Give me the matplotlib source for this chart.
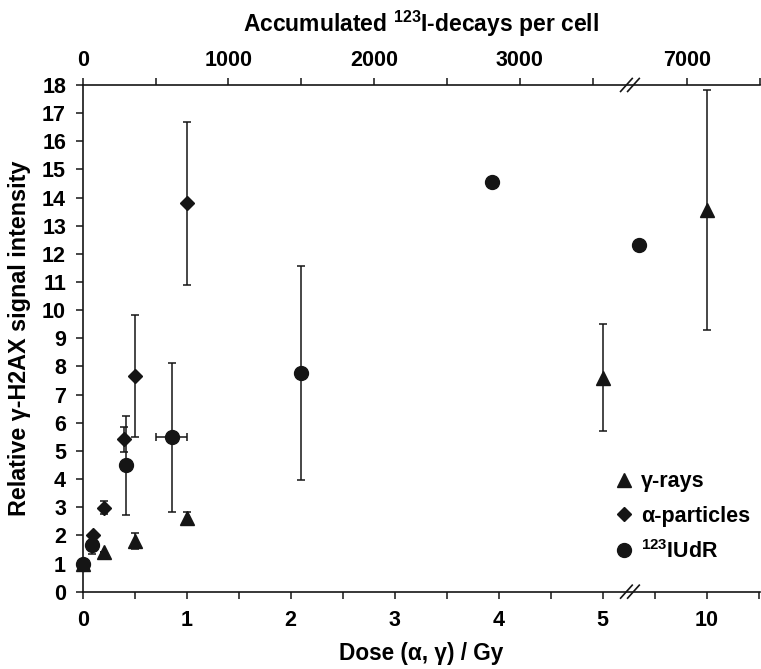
import matplotlib
matplotlib.use('Agg')
import matplotlib.pyplot as plt
from matplotlib.lines import Line2D
import numpy as np

plt.rcParams['font.family'] = ['Liberation Sans', 'DejaVu Sans']
plt.rcParams['font.weight'] = 'bold'
plt.rcParams['mathtext.fontset'] = 'custom'
for k in ('rm', 'it', 'bf', 'sf'):
    plt.rcParams['mathtext.' + k] = 'Liberation Sans:bold'

# ---------------- data ----------------
gamma_dose = [0, 0.2, 0.5, 1, 5, 10]
gamma_val = [1.0, 1.42, 1.8, 2.6, 7.6, 13.55]
gamma_err = [0, 0, 0.3, 0.24, 1.9, 4.27]

alpha_dose = [0, 0.1, 0.2, 0.4, 0.5, 1.0]
alpha_val = [1.0, 2.0, 2.98, 5.41, 7.65, 13.8]
alpha_err = [0, 0, 0.23, 0.44, 2.17, 2.9]

iudr_decays = [0, 62, 300, 610, 1500, 2810, 6670]
iudr_val = [1.0, 1.66, 4.49, 5.48, 7.76, 14.54, 12.33]
iudr_err = [0, 0.32, 1.75, 2.66, 3.8, 0, 0]
iudr_xerr = [0, 0, 0, 105, 0, 0, 0]

dose_ticks = [0, 1, 2, 3, 4, 5, 10]
dose_minor = [0.5, 1.5, 2.5, 3.5, 4.5, 7.5, 12.5]
decay_ticks = [0, 1000, 2000, 3000, 7000]
decay_minor = [500, 1500, 2500, 3500]
y_ticks = list(range(0, 19))

legend_labels = ['\u03b3-rays', '\u03b1-particles', r'$^{123}$IUdR']

# ---------------- broken-axis scales ----------------
# bottom: linear up to 5 Gy, compressed 5x beyond the break
def dose_fwd(d):
    d = np.asarray(d, float)
    return np.where(d <= 5, d, 5 + (d - 5) / 5.0)

def dose_inv(p):
    p = np.asarray(p, float)
    return np.where(p <= 5, p, 5 + (p - 5) * 5.0)

K = 1.4013e-3      # position units per decay
P7000 = 5.815      # position of the 7000 tick after the break
PBRK = 5.19        # break position

def dec_fwd(n):
    n = np.asarray(n, float)
    lo = n * K
    hi = P7000 + (n - 7000) * K
    return np.where(n <= PBRK / K, lo, np.where(n >= 7000 + (PBRK - P7000) / K, hi, PBRK))

def dec_inv(p):
    p = np.asarray(p, float)
    return np.where(p <= PBRK, p / K, 7000 + (p - P7000) / K)

POS_MAX = 6.51

fig = plt.figure(figsize=(7.61, 6.69), dpi=100)
ax = fig.add_axes([0.1087, 0.1156, 0.8895, 0.7574])
ax.set_xscale('function', functions=(dose_fwd, dose_inv))
ax.set_xlim(0, float(dose_inv(POS_MAX)))
ax.set_ylim(0, 18)

ax2 = ax.twiny()
ax2.set_xscale('function', functions=(dec_fwd, dec_inv))
ax2.set_xlim(0, float(dec_inv(POS_MAX)))

col = '#151515'
ekw = dict(ecolor=col, elinewidth=1.1, capsize=2.6, capthick=1.1, linestyle='none')

ax.errorbar(gamma_dose, gamma_val, yerr=gamma_err, fmt='^', ms=10, mfc=col, mec=col,
            clip_on=False, zorder=3, **ekw)
ax.errorbar(alpha_dose, alpha_val, yerr=alpha_err, fmt='D', ms=7.6, mfc=col, mec=col,
            clip_on=False, zorder=3, **ekw)
ax2.errorbar(iudr_decays, iudr_val, yerr=iudr_err, xerr=iudr_xerr, fmt='o', ms=10,
             mfc=col, mec=col, clip_on=False, zorder=3, **ekw)

# spines / ticks
for s in ('right', 'top'):
    ax.spines[s].set_visible(False)
for s in ('right', 'left', 'bottom'):
    ax2.spines[s].set_visible(False)
for a in (ax, ax2):
    for s in a.spines.values():
        s.set_linewidth(1.2)
        s.set_color(col)

ax.set_xticks(dose_ticks)
ax.set_xticklabels([str(t) for t in dose_ticks])
ax.set_xticks(dose_minor, minor=True)
ax.set_yticks(y_ticks)
ax.set_yticklabels([str(t) for t in y_ticks])
ax.tick_params(axis='both', which='both', direction='out', length=5, width=1.1,
               color=col, labelsize=15.5, pad=7)
ax.tick_params(axis='x', which='both', pad=8)

ax2.set_xticks(decay_ticks)
ax2.set_xticklabels([str(t) for t in decay_ticks])
ax2.set_xticks(decay_minor + [float(dec_inv(POS_MAX))], minor=True)
ax2.tick_params(axis='x', which='both', direction='out', length=5, width=1.1,
                color=col, labelsize=15.5, pad=5)

ax.set_xlabel('Dose (\u03b1, \u03b3) / Gy', fontsize=16.3, fontweight='bold', labelpad=8)
ax.set_ylabel('Relative \u03b3-H2AX signal intensity', fontsize=16.8, fontweight='bold',
              labelpad=8)
ax2.set_xlabel(r'Accumulated $^{123}$I-decays per cell', fontsize=16.5,
               fontweight='bold', labelpad=13)

# axis break marks
for yb in (0.0, 1.0):
    for x0 in (0.7946, 0.8050):
        ax.plot([x0, x0 + 0.0172], [yb - 0.0128, yb + 0.0128], transform=ax.transAxes,
                color=col, lw=1.2, clip_on=False, zorder=5)

# legend
handles = [Line2D([], [], marker='^', ms=10, color=col, linestyle='none'),
           Line2D([], [], marker='D', ms=7.6, color=col, linestyle='none'),
           Line2D([], [], marker='o', ms=10, color=col, linestyle='none')]
ax.legend(handles, legend_labels, loc='center left', bbox_to_anchor=(0.783, 0.147),
          frameon=False, fontsize=15.5, handlelength=1.0, handletextpad=0.3,
          labelspacing=0.62, borderpad=0, borderaxespad=0)

fig.savefig('out.png', dpi=100)
